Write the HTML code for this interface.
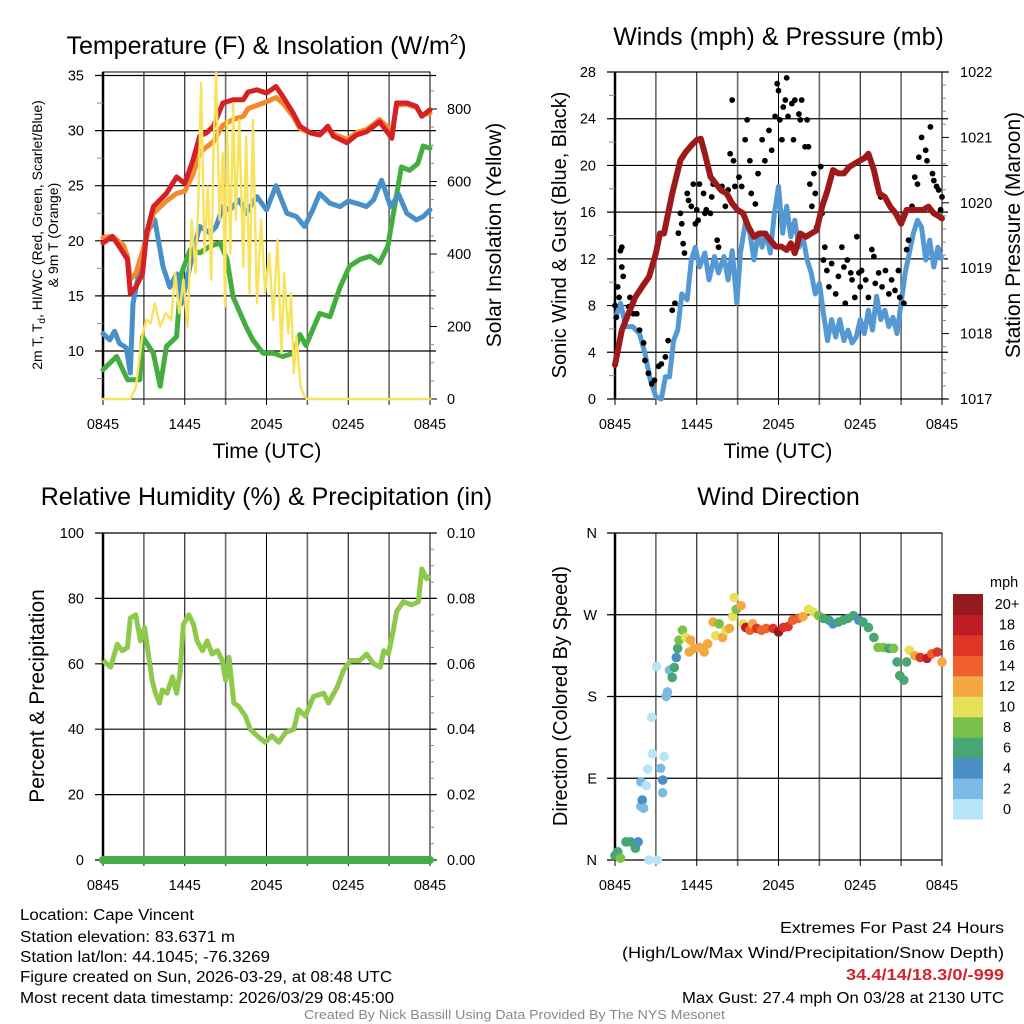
<!DOCTYPE html>
<html><head><meta charset="utf-8">
<style>
html,body{margin:0;padding:0;background:#fff;}
svg{display:block;font-family:"Liberation Sans",sans-serif;}
</style></head>
<body>
<svg id="fig" width="1024" height="1024" viewBox="0 0 1024 1024" xmlns="http://www.w3.org/2000/svg">
<g id="layer"></g>
<g font-size="15.5" fill="#000">
<text x="20" y="920" textLength="174" lengthAdjust="spacingAndGlyphs">Location: Cape Vincent</text>
<text x="20" y="942" textLength="215" lengthAdjust="spacingAndGlyphs">Station elevation: 83.6371 m</text>
<text x="20" y="962" textLength="250" lengthAdjust="spacingAndGlyphs">Station lat/lon: 44.1045; -76.3269</text>
<text x="20" y="982" textLength="372" lengthAdjust="spacingAndGlyphs">Figure created on Sun, 2026-03-29, at 08:48 UTC</text>
<text x="20" y="1003" textLength="374" lengthAdjust="spacingAndGlyphs">Most recent data timestamp: 2026/03/29 08:45:00</text>
</g>
<g font-size="16" fill="#000">
<text x="780" y="933" textLength="224" lengthAdjust="spacingAndGlyphs">Extremes For Past 24 Hours</text>
<text x="622" y="958" textLength="382" lengthAdjust="spacingAndGlyphs">(High/Low/Max Wind/Precipitation/Snow Depth)</text>
<text x="846" y="980" textLength="158" lengthAdjust="spacingAndGlyphs" fill="#d0262b" font-weight="bold">34.4/14/18.3/0/-999</text>
<text x="682" y="1003" textLength="322" lengthAdjust="spacingAndGlyphs">Max Gust: 27.4 mph On 03/28 at 2130 UTC</text>
</g>
<text x="304" y="1019" font-size="12.5" fill="#888" textLength="421" lengthAdjust="spacingAndGlyphs">Created By Nick Bassill Using Data Provided By The NYS Mesonet</text>
</svg>
<script>
// ---------- DATA ----------
const timeTicks = ["0845","1445","2045","0245","0845"];
const tHours = [0,0.7,1.5,1.8,2.0,2.4,2.9,3.2,3.7,4.65,5.4,6.0,6.6,7.1,7.6,8.1,8.8,9.55,10.3,10.65,11.3,12.0,12.7,13.2,13.95,14.45,15.2,15.9,16.5,16.9,17.9,18.6,19.35,20.3,20.9,21.2,21.55,22.3,23.0,23.4,24];
const tempRed = [19.8,20.4,18.9,18.3,15.2,15.8,17,20.7,23.1,24.3,25.8,25.2,27.3,29.5,29.8,30.4,32.5,32.8,32.8,33.5,33.7,33.4,34,33.1,31.6,30.4,29.8,29.6,30.4,29.5,28.9,29.6,29.9,30.8,29.8,29.3,32.5,32.5,32.2,31.3,31.9];
const tempOrange = [20.3,20.4,19.6,18.6,16.5,17,19,20.3,22.5,23.6,24.3,24.5,26,28,28.5,29,30.5,31,31.3,32,32.3,32.6,33,32.5,31.3,30.2,29.8,29.6,30.2,29.7,29.2,29.8,30.1,31,30.3,29.8,32.3,32.4,32.1,31.4,31.6];
const blueHours = [0,0.5,0.85,1.2,1.7,2.0,2.2,3.2,3.8,4.4,4.9,5.4,5.75,6.1,6.6,7.1,7.85,8.3,8.8,9.3,10.0,10.5,11.3,12,12.7,13.5,14.2,14.8,15.4,15.9,16.65,17.4,18,18.6,19.35,19.85,20.45,21.1,21.7,22.3,23.0,23.5,24];
const windChill = [11.6,11,11.8,10.7,10.3,8,14.3,20.7,21.9,17.7,15.8,17,14.3,16.1,18.9,21.3,20.7,21.3,23.1,22.8,23.7,22.5,24,22.8,25,22.5,22.2,21.3,22.8,24.3,23.4,23.1,23.6,23.4,23.1,23.7,25.5,23.1,24.2,22.5,21.9,22.2,22.8];
const dewHours = [0,1,1.8,2.7,2.9,3.7,4.2,4.65,5.4,5.75,6.4,7.1,7.85,8.6,9.1,9.55,10.5,11.0,11.75,12.5,13.2,14,14.45,14.9,15.9,16.65,17.4,18.1,18.85,19.6,20.3,20.9,21.4,21.9,22.5,23.1,23.5,24];
const dewPoint = [8.3,9.5,7.4,7.4,11.3,9.8,6.8,10.4,11.3,17,19.2,18.9,19.5,19.8,18.3,14.9,12.2,11,9.8,9.8,9.5,9.8,11.5,10.5,13.4,13.1,15.8,17.7,18.3,18.6,18,19.5,23.1,26.7,26.4,27,28.6,28.4];
const solarHours = [0,2.0,2.4,2.9,3.2,3.5,3.8,4.2,4.6,5.0,5.3,5.6,5.9,6.2,6.5,6.8,7.0,7.2,7.45,7.7,7.95,8.1,8.3,8.55,8.8,8.95,9.1,9.35,9.55,9.75,10.0,10.3,10.5,10.75,11.0,11.3,11.6,11.9,12.2,12.5,12.8,13.1,13.3,13.6,13.8,14.0,14.2,14.5,14.8,15,24];
const solar = [0,0,30,180,220,209,264,200,237,218,347,237,329,200,494,347,550,872,402,586,329,678,900,494,678,255,770,402,816,494,770,365,724,292,770,264,494,292,402,218,439,126,347,181,292,71,172,34,6,0,0];
const windHours = [0,0.4,0.8,1.3,1.8,2.2,2.6,3.0,3.4,3.7,4.0,4.3,4.6,4.9,5.3,5.6,5.9,6.2,6.6,6.9,7.3,7.6,8.0,8.3,8.6,8.95,9.2,9.6,9.9,10.2,10.5,10.8,11.1,11.4,11.7,12.0,12.3,12.6,12.9,13.2,13.5,13.8,14.1,14.4,14.7,15.0,15.3,15.6,15.9,16.2,16.5,16.8,17.1,17.4,17.7,18.0,18.3,18.6,18.9,19.2,19.5,19.8,20.1,20.4,20.7,21.0,21.3,21.6,21.9,22.2,22.5,22.8,23.1,23.4,23.7,24];
const sonicWind = [6.8,8.2,6.2,6.2,5.6,3.9,1.6,0.2,0,1.9,1.9,5.0,5.9,9.0,8.5,11.9,13,11.3,12.5,10.2,12.2,10.8,12.2,10.2,12.7,8.2,12.5,15.3,14.2,11.9,14.2,13.0,14.2,12.5,15.9,18.2,14.2,16.5,13.9,15.3,13.0,13.9,11.9,10.8,9.0,9.9,7.3,5.0,6.8,5.3,6.8,5.0,5.9,4.8,5.3,6.8,5.6,7.6,5.9,8.8,6.8,7.6,6.2,7.0,5.6,8.2,10.8,12.5,14.2,15.3,14.7,11.9,13.6,11.3,13.0,11.9];
const presHours = [0,0.5,1.0,1.5,2.0,2.5,3.0,3.3,3.6,4.2,4.8,5.2,5.7,6.0,6.3,6.6,7.0,7.4,7.8,8.2,8.6,9.0,9.4,9.8,10.2,10.6,11.0,11.4,11.8,12.2,12.6,12.9,13.2,13.6,14.0,14.4,14.8,15.2,15.6,16.0,16.4,16.8,17.2,17.6,18.0,18.3,18.6,19.0,19.4,19.8,20.2,20.6,21.0,21.4,21.8,22.2,22.6,23.0,23.4,23.8,24];
const pressure = [1017.52,1018.05,1018.31,1018.56,1018.72,1018.87,1019.23,1019.53,1019.53,1020.14,1020.65,1020.78,1020.9,1020.96,1020.98,1020.75,1020.4,1020.29,1020.19,1020.14,1019.99,1019.89,1019.84,1019.63,1019.48,1019.53,1019.53,1019.43,1019.33,1019.33,1019.28,1019.38,1019.23,1019.53,1019.48,1019.53,1019.58,1019.94,1020.19,1020.5,1020.45,1020.45,1020.55,1020.6,1020.65,1020.68,1020.75,1020.5,1020.14,1020.09,1019.94,1019.84,1019.68,1019.89,1019.89,1019.89,1019.89,1019.94,1019.84,1019.79,1019.76];
const gustHours = [0,0.1,0.2,0.3,0.4,0.5,0.5,0.6,1.0,1.1,1.35,1.6,1.8,2.1,2.2,2.45,2.7,2.9,3.2,3.4,3.7,3.9,4.2,4.4,4.65,4.8,4.9,5.0,5.1,5.3,5.4,5.6,5.75,5.9,6.0,6.1,6.2,6.5,6.6,6.7,7.0,7.1,7.2,7.5,7.6,7.85,8.1,8.3,8.6,8.45,8.7,8.8,9.1,9.3,9.55,9.7,9.9,10.0,10.3,10.5,10.8,11.0,11.3,11.5,11.75,11.9,12.0,12.1,12.25,12.35,12.5,12.6,12.7,12.98,13.1,13.2,13.5,13.6,13.7,13.95,14.1,14.2,14.3,14.45,14.6,14.7,14.8,14.95,15.1,15.2,15.3,15.4,15.55,15.7,15.9,16.2,16.4,16.65,16.8,16.9,17.05,17.3,17.4,17.6,17.75,17.9,18.0,18.1,18.4,18.6,18.85,19.0,19.1,19.35,19.5,19.6,19.85,20.1,20.3,20.55,20.8,20.9,21.2,21.4,21.55,21.8,22.0,22.2,22.3,22.5,22.8,22.9,23.15,23.3,23.4,23.6,23.75,23.9,24];
const gusts = [8.0,7.0,9.6,8.7,12.7,13,11.3,10.5,7.9,8.7,7.3,7.3,5.9,4.8,3.3,2.2,1.3,1.6,2.8,3.0,3.6,5.0,7.6,8.2,14.2,15.9,15,13.3,12.5,17.6,17.0,16.5,18.4,15,16.2,15.3,18.4,17.6,15.9,16.2,15.9,17.3,18.4,13.6,13,18.2,16.5,17.9,25.6,21,20.4,18.2,19,18.2,22.2,23.9,20.4,17.6,16.7,19.3,22.2,20.4,23,21.3,24.2,27,26.4,23.9,22.2,25,25.6,27.5,24.2,25.3,22.2,25.6,24.4,23.9,25.6,21.6,23.9,21.6,18.4,16.5,19.3,17.6,14.7,15.3,19.9,15.9,11.9,13,11,9.6,11.6,9,10.5,13,11.3,8.2,11.9,10.8,10.2,8.7,13.9,10.8,9.6,11,10.2,8.7,12.8,12.2,9.9,10.8,17.3,9.6,11,9,10.2,9.3,11,8.7,8.2,12.8,13.6,16.5,19,18.4,20.7,22.4,21.3,20.4,23.3,19.3,18.7,18.2,17.9,16.2,17.3];
const rhHours = [0,0.56,1.05,1.4,1.8,2.0,2.4,2.75,3.05,3.6,3.85,4.15,4.35,4.7,5.1,5.4,5.65,5.9,6.3,6.65,6.9,7.3,7.65,8.0,8.4,8.75,9.0,9.25,9.6,9.95,10.45,10.8,11.3,11.9,12.4,12.9,13.4,14.0,14.35,14.85,15.45,16.2,16.55,17.2,17.65,18.15,18.85,19.35,19.85,20.35,20.6,20.95,21.3,21.55,22.05,22.65,23.15,23.4,23.75,24];
const relHum = [61,59,66,64,65,74,75,67,71,55,51,48,52,51,56,51,57,72,75,72,67,64,67,63,64,61,55,62,48,47,44,40,38,36,38,36,39,40,46,44,50,51,48,53,58,61,61,63,60,59,64,63,70,76,79,78,79,89,86,87];
const precipHours = [0,24];
const precip = [0,0];
const dirHours = [0,0.2,0.4,0.8,1.15,1.5,1.7,1.9,2.0,2.1,1.9,2.3,2.4,2.75,2.7,2.5,3.1,3.05,3.35,3.5,3.5,3.6,3.75,3.85,4.0,4.2,4.35,4.5,4.6,4.7,4.95,5.2,5.45,5.55,5.8,6.2,6.55,6.8,7.2,7.4,7.65,7.9,8.15,8.4,8.65,8.75,8.9,9.25,9.4,9.6,9.9,10.1,10.4,10.75,11.1,11.6,12.0,12.35,12.7,13.05,13.45,13.8,14.2,14.55,14.95,15.3,15.7,16.0,16.4,16.75,17.1,17.5,17.9,18.2,18.6,19.0,19.3,19.7,20.1,20.45,20.7,20.9,21.2,21.4,21.6,22.0,22.4,22.9,23.25,23.65,24];
const dirDeg = [5,9,2,20,20,13,20,59,66,57,86,82,100,117,157,0,0,213,101,88,74,114,180,185,209,201,212,223,233,242,253,245,229,242,233,234,229,238,262,247,260,245,253,255,268,289,276,280,260,256,253,260,255,253,255,255,251,256,257,264,266,268,276,273,269,266,264,260,262,264,266,269,264,262,256,245,234,234,233,233,218,203,198,218,231,225,223,222,227,229,218];
const dirSpeed = [6,6,8,6,6,6,4,2,4,2,2,0,0,0,0,0,0,0,2,4,2,0,2,2,2,6,6,4,6,8,8,10,12,12,12,12,12,12,12,10,8,12,10,12,10,10,8,12,10,18,14,12,16,14,14,16,20,16,16,14,14,12,10,10,8,6,6,4,6,6,6,6,4,6,6,6,8,8,6,8,6,6,6,6,10,12,16,18,14,16,12];
const speedBins = ["0","2","4","6","8","10","12","14","16","18","20+"];
const binColors = ["#b8e4f8","#7bbae2","#4a8fc6","#47a673","#7cc24a","#e6e05a","#f5a842","#ee612b","#df3527","#c01c23","#941a1d"];

// ---------- HELPERS ----------
const NS="http://www.w3.org/2000/svg";
const layer=document.getElementById('layer');
function mk(tag,attrs,parent){const e=document.createElementNS(NS,tag);for(const k in attrs)e.setAttribute(k,attrs[k]);(parent||layer).appendChild(e);return e;}
function lin(d0,d1,r0,r1){return v=>r0+(v-d0)/(d1-d0)*(r1-r0);}
function pathD(xs,ys,fx,fy){return xs.map((x,i)=>(i?'L':'M')+fx(x).toFixed(1)+','+fy(ys[i]).toFixed(1)).join('');}

function frame(p){
  const g=mk('g',{});
  
  
  for(let h=0;h<=24;h+=3){
    const x=p.fx(h);const major=(h%6===0);
    const l=mk('line',{x1:x,x2:x,y1:p.y0,y2:p.y1+6,stroke:major?'#000':'#666','stroke-width':major?1:1.6},g);
    
    
  }
  p.hlines.forEach(h=>{
    const y=p.fyL(h.v);
    const l=mk('line',{x1:p.x0-8,x2:p.x1+(p.rightTicks?6:0),y1:y,y2:y,stroke:'#000','stroke-width':1.2},g);
    
    
  });
  const fr=mk('rect',{x:p.x0,y:p.y0,width:p.x1-p.x0,height:p.y1-p.y0,fill:'none',stroke:'#000','stroke-width':1},g);
  
  
  const lb=mk('line',{x1:p.x0,x2:p.x0,y1:p.y0,y2:p.y1,stroke:'#000','stroke-width':2.5},g);
  
  
  timeTicks.forEach((t,i)=>{
    const tx=mk('text',{x:p.fx(i*6),y:p.y1+30,'font-size':14.5,'text-anchor':'middle'},g);
    tx.textContent=t;
    
    
  });
  const tt=mk('text',{x:(p.x0+p.x1)/2,y:p.title_y,'font-size':25,'text-anchor':'middle'},g);
  tt.innerHTML=p.title;
  
  
  return g;
}
function yLabels(vals,fy,x,anchor,fmt,name){
  vals.forEach(v=>{
    const t=mk('text',{x:x,y:fy(v)+5,'font-size':14.5,'text-anchor':anchor});
    t.textContent=fmt(v);
    
    
  });
}
function rotLabel(txt,x,y,size,name){
  const t=mk('text',{x:x,y:y,'font-size':size,'text-anchor':'middle',transform:'rotate(-90 '+x+' '+y+')'});
  t.innerHTML=txt;
  
  
  return t;
}
function xTitle(x,y,name){
  const t=mk('text',{x:x,y:y,'font-size':21,'text-anchor':'middle'});
  t.textContent='Time (UTC)';
  
  
}
function rightTicks(x,vals,fy,major){
  vals.forEach(v=>{
    const l=mk('line',{x1:x,x2:x+(major?7:4),y1:fy(v),y2:fy(v),stroke:major?'#000':'#888','stroke-width':1});
    
    
  });
}

// ---------- PANEL 1: Temperature ----------
{
 const x0=103,x1=430,y0=72,y1=399;
 const fx=lin(0,24,x0,x1), fT=lin(10,35,351,75.5), fS=lin(0,800,399,109);
 const hl=[];for(let v=10;v<=35;v+=5)hl.push({v:v,tick:true});
 frame({name:'temperature-panel',x0,x1,y0,y1,fx,fyL:fT,hlines:hl,title:'Temperature (F) &amp; Insolation (W/m<tspan dy="-10" font-size="15">2</tspan><tspan dy="10">)</tspan>',title_y:54,rightTicks:true});
 for(let v=7.5;v<35;v+=5){const l=mk('line',{x1:x0-6,x2:x0,y1:fT(v),y2:fT(v),stroke:'#888'});}
 yLabels([10,15,20,25,30,35],fT,84,'end',v=>v,'temp-tick-label');
 yLabels([0,200,400,600,800],fS,447,'start',v=>v,'solar-tick-label');
 rightTicks(x1,[0,200,400,600,800],fS,true);
 rightTicks(x1,[50,100,150,250,300,350,450,500,550,650,700,750,850],fS,false);
 const lines=[[dewHours,dewPoint,'#43ad3f','dewpoint-line',fT,5],[blueHours,windChill,'#4a90c8','windchill-line',fT,5],[tHours,tempOrange,'#f58a2c','temp-9m-line',fT,5],[tHours,tempRed,'#d42026','temp-2m-line',fT,5],[solarHours,solar,'#f9e25c','solar-line',fS,2.4]];
 lines.forEach(L=>{
   const p=mk('path',{d:pathD(L[0],L[1],fx,L[4]),fill:'none',stroke:L[2],'stroke-width':L[5],'stroke-linejoin':'round','stroke-linecap':'round'});
   
   
 });
 rotLabel('2m T, T<tspan font-size="10" dy="3">d</tspan><tspan dy="-3">, HI/WC (Red, Green, Scarlet/Blue)</tspan>',42,235,14,'temp-y-axis-title');
 rotLabel('&amp; 9m T (Orange)',58,235,14,'temp-y-axis-title-line2');
 rotLabel('Solar Insolation (Yellow)',501,235,21,'solar-y-axis-title');
 xTitle(267,458,'temp-x-axis-title');
}

// ---------- PANEL 2: Winds ----------
{
 const x0=615,x1=942,y0=72,y1=399;
 const fx=lin(0,24,x0,x1), fW=lin(0,28,399,72), fP=lin(1017,1022,399,72);
 const hl=[];for(let v=0;v<=28;v+=4)hl.push({v:v,tick:true});
 frame({name:'winds-panel',x0,x1,y0,y1,fx,fyL:fW,hlines:hl,title:'Winds (mph) &amp; Pressure (mb)',title_y:45,rightTicks:true});
 for(let v=2;v<28;v+=4){const l=mk('line',{x1:x0-6,x2:x0,y1:fW(v),y2:fW(v),stroke:'#888'});}
 yLabels([0,4,8,12,16,20,24,28],fW,596,'end',v=>v,'wind-tick-label');
 yLabels([1017,1018,1019,1020,1021,1022],fP,960,'start',v=>v,'pressure-tick-label');
 rightTicks(x1,[1017,1018,1019,1020,1021,1022],fP,true);
 const mn=[];for(let v=1017.2;v<1022;v+=0.2){if(Math.abs(v-Math.round(v))>0.05)mn.push(v);}
 rightTicks(x1,mn,fP,false);
 const w=mk('path',{d:pathD(windHours,sonicWind,fx,fW),fill:'none',stroke:'#5499d3','stroke-width':5,'stroke-linejoin':'round'});
 
 
 const gg=mk('g',{});
 
 
 gustHours.forEach((h,i)=>{
   const c=mk('circle',{cx:fx(h),cy:fW(gusts[i]),r:2.9,fill:'#000'},gg);
   
   
 });
 const p=mk('path',{d:pathD(presHours,pressure,fx,fP),fill:'none',stroke:'#9e1a1a','stroke-width':6,'stroke-linejoin':'round','stroke-linecap':'round'});
 
 
 rotLabel('Sonic Wind &amp; Gust (Blue, Black)',566,235,20,'wind-y-axis-title');
 rotLabel('Station Pressure (Maroon)',1020,235,21,'pressure-y-axis-title');
 xTitle(778,458,'wind-x-axis-title');
}

// ---------- PANEL 3: RH ----------
{
 const x0=103,x1=430,y0=533,y1=860;
 const fx=lin(0,24,x0,x1), fR=lin(0,100,860,533), fPr=lin(0,0.1,860,533);
 const hl=[];for(let v=0;v<=100;v+=20)hl.push({v:v,tick:true});
 frame({name:'humidity-panel',x0,x1,y0,y1,fx,fyL:fR,hlines:hl,title:'Relative Humidity (%) &amp; Precipitation (in)',title_y:505,rightTicks:true});
 yLabels([0,20,40,60,80,100],fR,84,'end',v=>v,'rh-tick-label');
 yLabels([0,0.02,0.04,0.06,0.08,0.1],fPr,447,'start',v=>v.toFixed(2),'precip-tick-label');
 rightTicks(x1,[0,0.02,0.04,0.06,0.08,0.1],fPr,true);
 rightTicks(x1,[0.005,0.01,0.015,0.025,0.03,0.035,0.045,0.05,0.055,0.065,0.07,0.075,0.085,0.09,0.095],fPr,false);
 const r=mk('path',{d:pathD(rhHours,relHum,fx,fR),fill:'none',stroke:'#8dc94a','stroke-width':5,'stroke-linejoin':'round'});
 
 
 const pr=mk('path',{d:pathD(precipHours,precip,fx,fPr),fill:'none',stroke:'#45ad45','stroke-width':8,'stroke-linecap':'round'});
 
 
 rotLabel('Percent &amp; Precipitation',44,696,21,'rh-y-axis-title');
}

// ---------- PANEL 4: Wind direction ----------
{
 const x0=615,x1=942,y0=533,y1=860;
 const fx=lin(0,24,x0,x1), fD=lin(0,360,860,533);
 const dirs=['N','E','S','W','N'];
 const hl=[0,90,180,270,360].map(v=>({v:v,tick:true}));
 frame({name:'direction-panel',x0,x1,y0,y1,fx,fyL:fD,hlines:hl,title:'Wind Direction',title_y:505,rightTicks:false});
 [0,90,180,270,360].forEach((v,i)=>{
   const t=mk('text',{x:597,y:fD(v)+5,'font-size':14.5,'text-anchor':'end'});
   t.textContent=dirs[i];
   
   
 });
 const dg=mk('g',{});
 
 
 dirHours.forEach((h,i)=>{
   const b=Math.min(10,Math.floor(dirSpeed[i]/2));
   const c=mk('circle',{cx:fx(h),cy:fD(dirDeg[i]),r:4.8,fill:binColors[b]},dg);
   
   
 });
 rotLabel('Direction (Colored By Speed)',567,696,20,'direction-y-axis-title');
 const cb=mk('g',{});
 
 
 const bh=(819-594)/speedBins.length;
 speedBins.forEach((s,i)=>{
   const y=819-(i+1)*bh;
   const r=mk('rect',{x:953,y:y,width:30,height:bh+0.5,fill:binColors[i]},cb);
   
   
   const t=mk('text',{x:1007,y:y+bh/2+5,'font-size':14.5,'text-anchor':'middle'},cb);
   t.textContent=s;
   
   
 });
 const u=mk('text',{x:990,y:587,'font-size':14.5},cb);
 u.textContent='mph';
 
 
}
</script>
</body></html>
